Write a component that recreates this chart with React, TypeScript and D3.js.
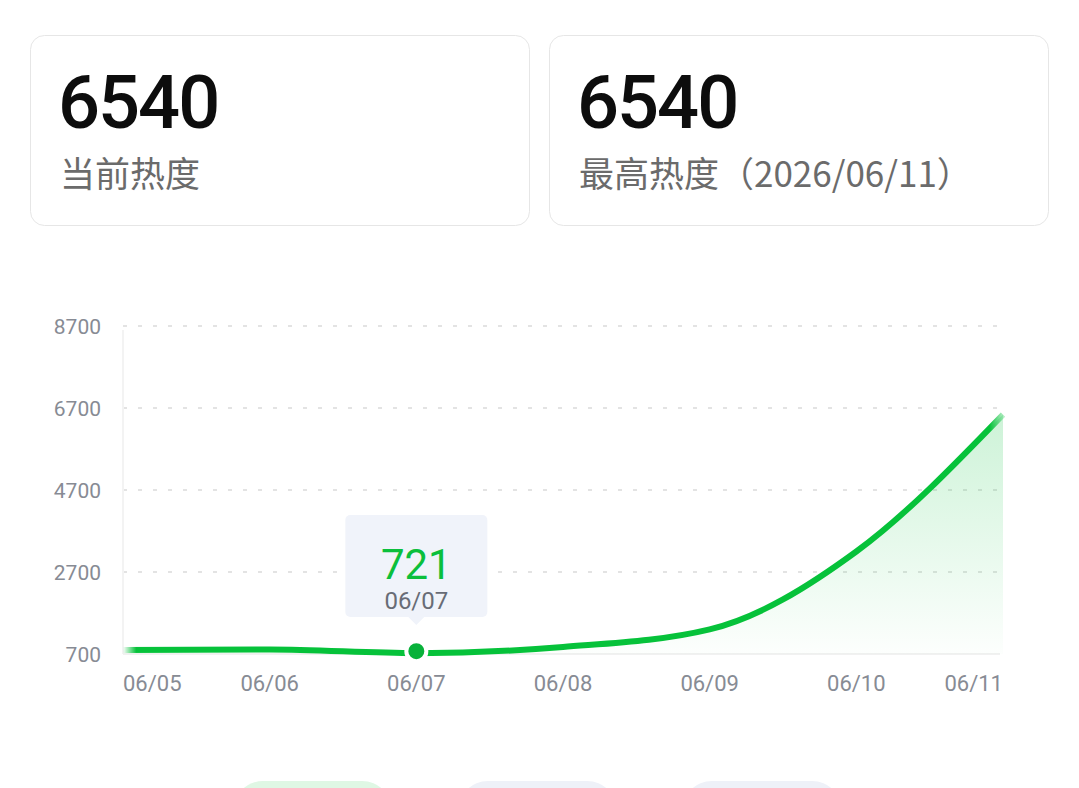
import React from "react";
import * as d3 from "d3";

const dates = ["06/05", "06/06", "06/07", "06/08", "06/09", "06/10", "06/11"];
const heat = [800, 810, 721, 870, 1300, 3200, 6540];
const yTicks = [700, 2700, 4700, 6700, 8700];
const currentHeat = 6540;
const maxHeat = 6540;
const maxDate = "2026/06/11";
const tipIndex = 2;

const W = 1079;
const H = 788;

export default function App() {
  const x = d3.scalePoint<string>().domain(dates).range([123, 1003]);
  const y = d3.scaleLinear().domain([700, 8700]).range([654, 326]);
  const pts: [number, number][] = dates.map((d, i) => [x(d) as number, y(heat[i])]);
  const line = d3.line<[number, number]>().x((p) => p[0]).y((p) => p[1]).curve(d3.curveMonotoneX);
  const area = d3
    .area<[number, number]>()
    .x((p) => p[0])
    .y0(y(700))
    .y1((p) => p[1])
    .curve(d3.curveMonotoneX);
  const x0 = x(dates[0]) as number;
  const x1 = x(dates[dates.length - 1]) as number;
  const tx = x(dates[tipIndex]) as number;
  const ty = y(heat[tipIndex]);
  const font = "Roboto, 'Noto Sans CJK SC', sans-serif";
  const cjk = "'Noto Sans CJK SC', Roboto, sans-serif";

  return (
    <svg width={W} height={H} style={{ position: "fixed", left: 0, top: 0, background: "#fff" }}>
      <defs>
        <linearGradient id="lineGrad" gradientUnits="userSpaceOnUse" x1={x0} x2={x1} y1={0} y2={0}>
          <stop offset="0" stopColor="#06c23a" stopOpacity="0" />
          <stop offset="0.015" stopColor="#06c23a" stopOpacity="1" />
          <stop offset="0.985" stopColor="#06c23a" stopOpacity="1" />
          <stop offset="1" stopColor="#06c23a" stopOpacity="0.3" />
        </linearGradient>
        <linearGradient id="areaGrad" gradientUnits="userSpaceOnUse" x1={0} x2={0} y1={y(d3.max(heat) as number)} y2={y(700)}>
          <stop offset="0" stopColor="#06c23a" stopOpacity="0.2" />
          <stop offset="1" stopColor="#06c23a" stopOpacity="0.01" />
        </linearGradient>
      </defs>

      {/* cards */}
      <rect x={30.5} y={35.5} width={499} height={190} rx={14} fill="#fff" stroke="#e6e6e6" />
      <rect x={549.5} y={35.5} width={499} height={190} rx={14} fill="#fff" stroke="#e6e6e6" />
      <text x={58} y={128} fontFamily={font} fontWeight={500} fontSize={74} fill="#0d0d0d" letterSpacing={-2}>
        {currentHeat}
      </text>
      <text x={60} y={187} fontFamily={cjk} fontSize={35} fill="#6b6b6b">
        当前热度
      </text>
      <text x={577} y={128} fontFamily={font} fontWeight={500} fontSize={74} fill="#0d0d0d" letterSpacing={-2}>
        {maxHeat}
      </text>
      <text x={579} y={187} fontFamily={cjk} fontSize={35} fill="#6b6b6b">
        {`最高热度（${maxDate}）`}
      </text>

      {/* grid */}
      {yTicks.map((t) => (
        <g key={t}>
          {t !== 700 && (
            <line x1={x0} x2={1000} y1={y(t)} y2={y(t)} stroke="#e3e3e3" strokeWidth={2} strokeDasharray="4 11" />
          )}
          <text x={101} y={y(t)} dy="0.36em" textAnchor="end" fontFamily={font} fontSize={21} fill="#878b94">
            {t}
          </text>
        </g>
      ))}
      <line x1={x0} x2={x0} y1={330} y2={y(700)} stroke="#f3f3f3" strokeWidth={2} />
      <line x1={x0} x2={1000} y1={y(700)} y2={y(700)} stroke="#f1f1f1" strokeWidth={2} />

      {/* x labels */}
      {dates.map((d, i) => (
        <text
          key={d}
          x={x(d) as number}
          y={691}
          textAnchor={i === 0 ? "start" : i === dates.length - 1 ? "end" : "middle"}
          fontFamily={font}
          fontSize={22}
          fill="#878b94"
        >
          {d}
        </text>
      ))}

      {/* area + line */}
      <path d={area(pts) as string} fill="url(#areaGrad)" />
      <path d={line(pts) as string} fill="none" stroke="url(#lineGrad)" strokeWidth={6} strokeLinecap="butt" />

      {/* point */}
      <circle cx={tx} cy={ty - 2} r={10} fill="#08b13a" stroke="#fff" strokeWidth={4} />

      {/* tooltip */}
      <g>
        <rect x={tx - 71} y={515} width={142} height={102} rx={5} fill="#f0f3fa" />
        <path d={`M${tx - 8},617 L${tx},625 L${tx + 8},617 Z`} fill="#f0f3fa" />
        <text x={tx} y={579} textAnchor="middle" fontFamily={font} fontSize={42} fill="#0bbf3c">
          {heat[tipIndex]}
        </text>
        <text x={tx} y={609} textAnchor="middle" fontFamily={font} fontSize={24} fill="#686c76">
          {dates[tipIndex]}
        </text>
      </g>

      {/* bottom buttons */}
      <rect x={233} y={781} width={159} height={60} rx={30} fill="#dff7e4" />
      <rect x={458} y={781} width={159} height={60} rx={30} fill="#eef1f8" />
      <rect x={682} y={781} width={160} height={60} rx={30} fill="#eef1f8" />
    </svg>
  );
}
